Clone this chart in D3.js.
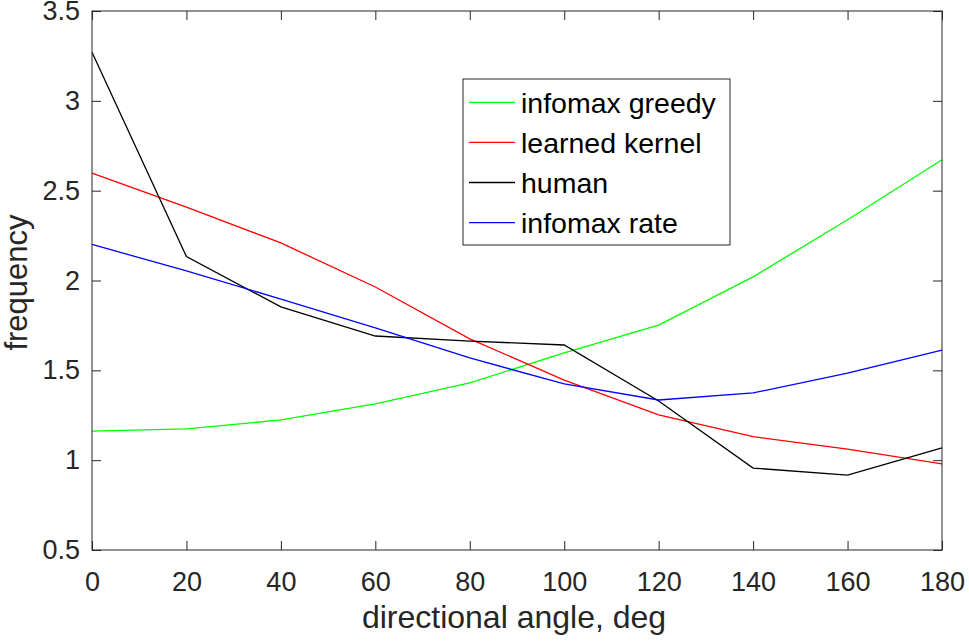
<!DOCTYPE html>
<html>
<head>
<meta charset="utf-8">
<script src="https://cdn.jsdelivr.net/npm/d3@7"></script>
<style>
  html, body { margin: 0; padding: 0; background: #fff; }
  svg { display: block; font-family: "Liberation Sans", Arial, sans-serif; }
</style>
</head>
<body>
<div id="chart"></div>
<script>
const angles = [0, 20, 40, 60, 80, 100, 120, 140, 160, 180]
const greedy = [1.162, 1.174, 1.224, 1.313, 1.43, 1.597, 1.752, 2.02, 2.338, 2.672]
const learned = [2.598, 2.409, 2.209, 1.964, 1.675, 1.446, 1.252, 1.131, 1.062, 0.979]
const human = [3.27, 2.133, 1.853, 1.691, 1.663, 1.641, 1.329, 0.956, 0.917, 1.068]
const rate = [2.201, 2.053, 1.897, 1.736, 1.569, 1.424, 1.335, 1.374, 1.485, 1.613]
const xTicks = [0, 20, 40, 60, 80, 100, 120, 140, 160, 180]
const yTicks = [0.5, 1, 1.5, 2, 2.5, 3, 3.5]

const series = [
  { name: 'infomax greedy', values: greedy, color: '#00ff00' },
  { name: 'learned kernel', values: learned, color: '#ff0000' },
  { name: 'human', values: human, color: '#000000' },
  { name: 'infomax rate', values: rate, color: '#0000ff' },
]

const width = 969
const height = 644
const margin = { top: 11, right: 27, bottom: 94, left: 92 }
const innerW = width - margin.left - margin.right
const innerH = height - margin.top - margin.bottom
const axisColor = '#262626'

const x = d3.scaleLinear().domain([0, 180]).range([0, innerW])
const y = d3.scaleLinear().domain([0.5, 3.5]).range([innerH, 0])

const svg = d3.select('#chart').append('svg')
  .attr('width', width)
  .attr('height', height)

const g = svg.append('g').attr('transform', `translate(${margin.left},${margin.top})`)

// lines
const line = d3.line().x((d, i) => x(angles[i])).y((d) => y(d))
g.append('g')
  .selectAll('path')
  .data(series)
  .join('path')
  .attr('d', (s) => line(s.values))
  .attr('fill', 'none')
  .attr('stroke', (s) => s.color)
  .attr('stroke-width', 1.3)

// axes (ticks inward on all four sides)
const styleAxis = (sel) => {
  sel.select('.domain').remove()
  sel.selectAll('line').attr('stroke', axisColor)
  sel.selectAll('text')
    .attr('fill', '#262626')
    .attr('font-size', 27)
    .attr('font-family', '"Liberation Sans", Arial, sans-serif')
}

g.append('g')
  .attr('transform', `translate(0,${innerH})`)
  .call(d3.axisBottom(x).tickValues(xTicks).tickSize(-9).tickPadding(22).tickFormat(d3.format('d')))
  .call(styleAxis)

g.append('g')
  .call(d3.axisTop(x).tickValues(xTicks).tickSize(-9).tickFormat(''))
  .call(styleAxis)

g.append('g')
  .call(d3.axisLeft(y).tickValues(yTicks).tickSize(-9).tickPadding(12).tickFormat((d) => String(d)))
  .call(styleAxis)

g.append('g')
  .attr('transform', `translate(${innerW},0)`)
  .call(d3.axisRight(y).tickValues(yTicks).tickSize(-9).tickFormat(''))
  .call(styleAxis)

g.append('rect')
  .attr('width', innerW)
  .attr('height', innerH)
  .attr('fill', 'none')
  .attr('stroke', axisColor)
  .attr('stroke-width', 1)

// axis labels
svg.append('text')
  .attr('x', margin.left + innerW / 2 - 3)
  .attr('y', 628)
  .attr('text-anchor', 'middle')
  .attr('font-size', 32)
  .attr('fill', '#262626')
  .text('directional angle, deg')

svg.append('text')
  .attr('transform', `translate(27,${margin.top + innerH / 2 + 2}) rotate(-90)`)
  .attr('text-anchor', 'middle')
  .attr('font-size', 31)
  .attr('fill', '#262626')
  .text('frequency')

// legend
const legend = svg.append('g').attr('transform', 'translate(463,79)')
legend.append('rect')
  .attr('width', 267)
  .attr('height', 166)
  .attr('fill', '#fff')
  .attr('stroke', axisColor)
  .attr('stroke-width', 1)

const rows = legend.selectAll('g.row')
  .data(series)
  .join('g')
  .attr('class', 'row')
  .attr('transform', (s, i) => `translate(0,${23.3 + i * 40.1})`)

rows.append('line')
  .attr('x1', 6)
  .attr('x2', 52)
  .attr('stroke', (s) => s.color)
  .attr('stroke-width', 1.3)

rows.append('text')
  .attr('x', 58)
  .attr('y', 10.5)
  .attr('font-size', 28.5)
  .attr('fill', '#000')
  .text((s) => s.name)
</script>
</body>
</html>
